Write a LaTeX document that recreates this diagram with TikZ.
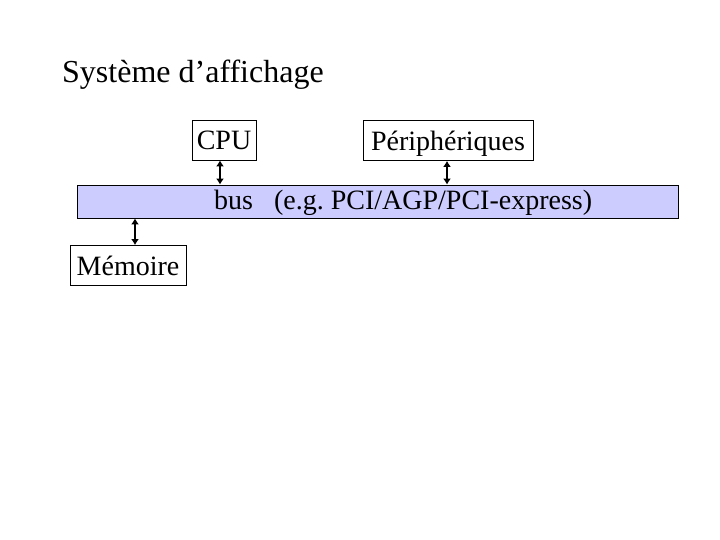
\documentclass[tikz,border=0pt]{standalone}
\usepackage{fontspec}
\setmainfont{Liberation Serif}
\usepackage{xcolor}
\definecolor{buslavender}{RGB}{204,204,255}
\usetikzlibrary{arrows.meta,positioning}

\begin{document}
\begin{tikzpicture}[x=1pt,y=-1pt,
  unit/.style={draw,line width=0.8pt,inner sep=0pt,minimum height=40pt,text height=22pt,text depth=2pt,font=\fontsize{28}{30}\selectfont},
  link/.style={{Latex[length=6pt,width=8pt]}-{Latex[length=6pt,width=8pt]},line width=2.6pt}]
  \useasboundingbox (0,0) rectangle (720,540);
  % Title
  \node[anchor=base west,inner sep=0pt,font=\fontsize{32}{34}\selectfont] (title) at (62,83) {Système d’affichage};
  % Units
  \node[unit,minimum width=64pt] (cpu) at (224,140) {CPU};
  \node[unit,minimum width=170pt] (periph) at (448,140.5) {Périphériques};
  \node[unit,minimum width=116pt] (mem) at (128,265.5) {Mémoire};
  % Bus
  \node[draw,line width=0.8pt,fill=buslavender,minimum width=601pt,minimum height=33pt,inner sep=0pt] (bus) at (377.5,201.5) {};
  \node[anchor=base west,inner sep=0pt,font=\fontsize{28}{30}\selectfont] (buslabel) at (214,210) {bus\hspace{0.75em}(e.g.\ PCI/AGP/PCI-express)};
  % Links
  \draw[link] (cpu.south -| 220,0) -- (bus.north -| 220,0);
  \draw[link] (periph.south -| 447,0) -- (bus.north -| 447,0);
  \draw[link] (bus.south -| 135,0) -- (mem.north -| 135,0);
\end{tikzpicture}
\end{document}
